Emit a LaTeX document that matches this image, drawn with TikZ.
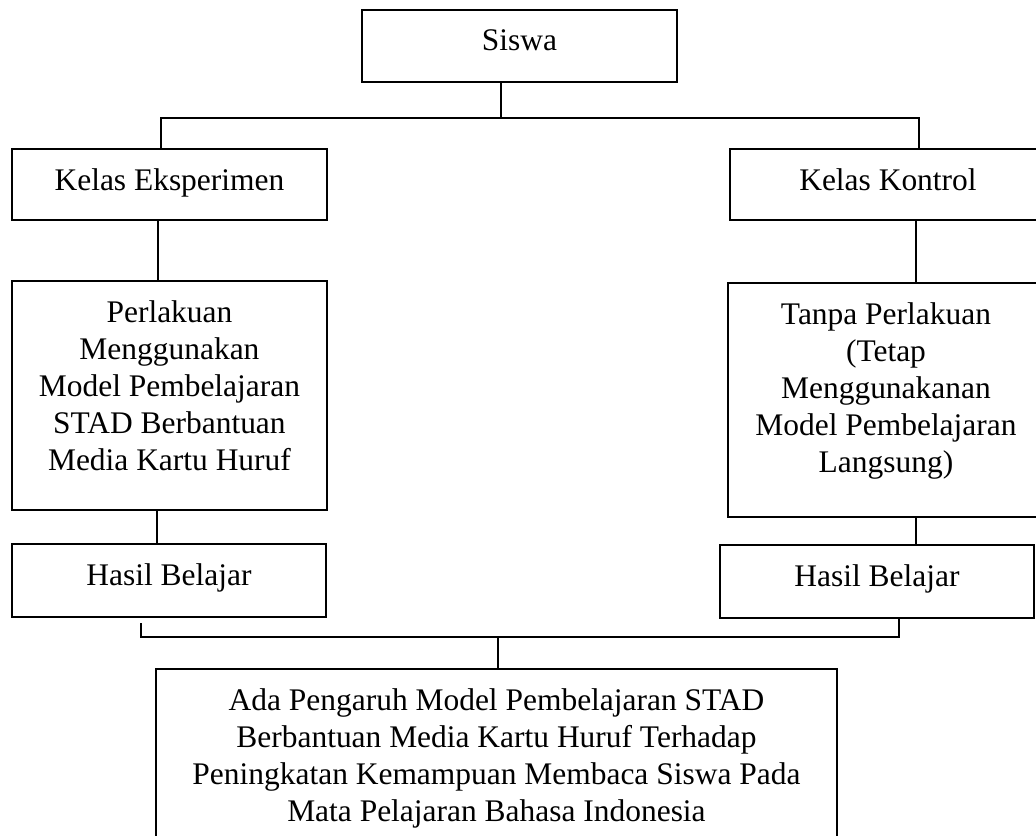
\documentclass[tikz,border=0pt]{standalone}
\usepackage{fontspec}
\setmainfont{Liberation Serif}

\newcommand{\isikotak}[3]{\parbox[t][#2][t]{#1}{\centering #3}}

\tikzset{
	kotak/.style={draw, line width=1.1pt, inner xsep=0pt, inner ysep=0.4cm,
		anchor=north west, font=\fontsize{17.9}{21}\selectfont},
	garis/.style={line width=0.9pt},
}

\begin{document}
\begin{tikzpicture}
		\useasboundingbox (0, 0) rectangle (20.72, -16.72);
		\clip (0, 0) rectangle (20.72, -16.72);

		% kotak
		\node[kotak] (siswa) at (7.22, -0.18) {\isikotak{6.3cm}{0.64cm}{Siswa}};
		\node[kotak] (eksperimen) at (0.22, -2.96) {\isikotak{6.3cm}{0.62cm}{Kelas Eksperimen}};
		\node[kotak] (kontrol) at (14.58, -2.96) {\isikotak{6.32cm}{0.62cm}{Kelas Kontrol}};
		\node[kotak] (perlakuan) at (0.22, -5.6) {\isikotak{6.3cm}{3.78cm}{Perlakuan\\ Menggunakan\\ Model Pembelajaran\\ STAD Berbantuan\\ Media Kartu Huruf}};
		\node[kotak] (tanpa) at (14.54, -5.64) {\isikotak{6.32cm}{3.88cm}{Tanpa Perlakuan\\ (Tetap\\ Menggunakanan\\ Model Pembelajaran\\ Langsung)}};
		\node[kotak] (hasilA) at (0.22, -10.86) {\isikotak{6.28cm}{0.66cm}{Hasil Belajar}};
		\node[kotak] (hasilB) at (14.38, -10.88) {\isikotak{6.28cm}{0.66cm}{Hasil Belajar}};
		\node[kotak] (pengaruh) at (3.1, -13.36) {\isikotak{13.62cm}{2.6cm}{Ada Pengaruh Model Pembelajaran STAD\\ Berbantuan Media Kartu Huruf Terhadap\\ Peningkatan Kemampuan Membaca Siswa Pada\\ Mata Pelajaran Bahasa Indonesia}};

		% titik cabang
		\coordinate (cabang) at (10.02, -2.36);
		\coordinate (cabangA) at (3.22, -2.36);
		\coordinate (cabangB) at (18.38, -2.36);
		\coordinate (jalurA) at (3.16, 0);
		\coordinate (jalurB) at (18.32, 0);
		\coordinate (jalurC) at (3.14, 0);
		\coordinate (kurungA) at (2.82, -12.46);
		\coordinate (kurungB) at (17.98, -12.38);
		\coordinate (kurungM) at (9.96, -12.74);

		% garis
		\draw[garis] (siswa.south -| cabang) -- (cabang);
		\draw[garis] (eksperimen.north -| cabangA) -- (cabangA) -- (cabangB) -- (kontrol.north -| cabangB);
		\draw[garis] (eksperimen.south -| jalurA) -- (perlakuan.north -| jalurA);
		\draw[garis] (kontrol.south -| jalurB) -- (tanpa.north -| jalurB);
		\draw[garis] (perlakuan.south -| jalurC) -- (hasilA.north -| jalurC);
		\draw[garis] (tanpa.south -| jalurB) -- (hasilB.north -| jalurB);
		\draw[garis] (kurungA) -- (kurungA |- kurungM) -- (kurungB |- kurungM) -- (kurungB);
		\draw[garis] (kurungM) -- (pengaruh.north -| kurungM);
	\end{tikzpicture}
\end{document}
